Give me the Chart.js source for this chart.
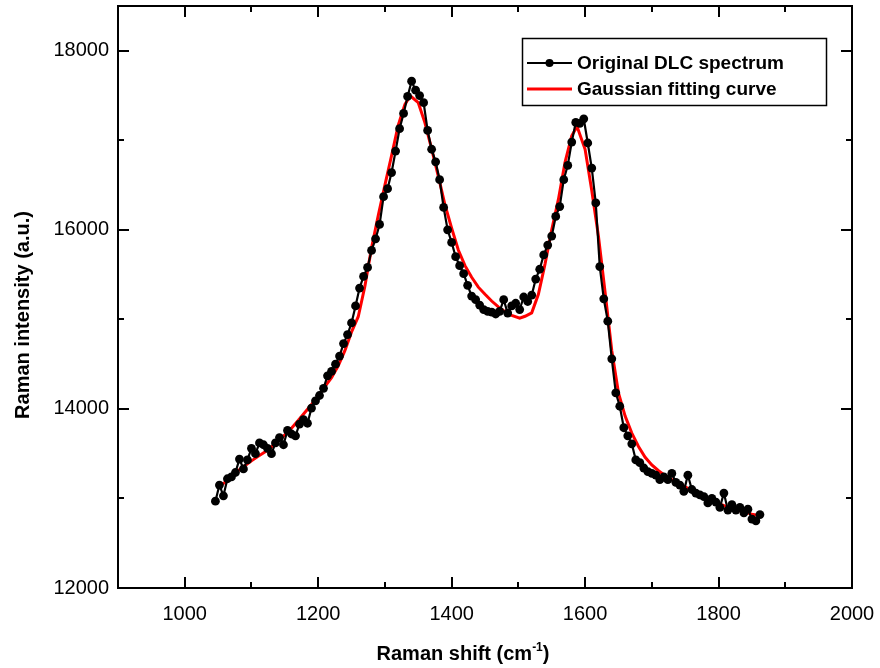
<!DOCTYPE html>
<html>
<head>
<meta charset="utf-8">
<title>DLC Raman spectrum</title>
<script src="https://cdn.jsdelivr.net/npm/chart.js@4.4.1/dist/chart.umd.min.js"></script>
<style>
  html, body { margin: 0; padding: 0; background: #fff; }
  #wrap { width: 880px; height: 668px; }
</style>
</head>
<body>
<div id="wrap"><canvas id="raman" width="880" height="668"></canvas></div>
<script>
/* ------------------------------------------------------------
   DATOS
------------------------------------------------------------ */
const ramanShift = [
  1046, 1052, 1058, 1064, 1070, 1076, 1082, 1088, 1094, 1100,
  1106, 1112, 1118, 1124, 1130, 1136, 1142, 1148, 1154, 1160,
  1166, 1172, 1178, 1184, 1190, 1196, 1202, 1208, 1214, 1220,
  1226, 1232, 1238, 1244, 1250, 1256, 1262, 1268, 1274, 1280,
  1286, 1292, 1298, 1304, 1310, 1316, 1322, 1328, 1334, 1340,
  1346, 1352, 1358, 1364, 1370, 1376, 1382, 1388, 1394, 1400,
  1406, 1412, 1418, 1424, 1430, 1436, 1442, 1448, 1454, 1460,
  1466, 1472, 1478, 1484, 1490, 1496, 1502, 1508, 1514, 1520,
  1526, 1532, 1538, 1544, 1550, 1556, 1562, 1568, 1574, 1580,
  1586, 1592, 1598, 1604, 1610, 1616, 1622, 1628, 1634, 1640,
  1646, 1652, 1658, 1664, 1670, 1676, 1682, 1688, 1694, 1700,
  1706, 1712, 1718, 1724, 1730, 1736, 1742, 1748, 1754, 1760,
  1766, 1772, 1778, 1784, 1790, 1796, 1802, 1808, 1814, 1820,
  1826, 1832, 1838, 1844, 1850, 1856, 1862,
];

const spectrum = [
  12970, 13150, 13030, 13220, 13240, 13290, 13440, 13330, 13430, 13560,
  13500, 13620, 13600, 13560, 13500, 13620, 13680, 13600, 13760, 13720,
  13700, 13830, 13880, 13840, 14010, 14090, 14150, 14230, 14370, 14420,
  14500, 14590, 14730, 14830, 14960, 15150, 15350, 15480, 15580, 15770,
  15900, 16060, 16370, 16460, 16640, 16880, 17130, 17300, 17490, 17660,
  17560, 17500, 17420, 17110, 16900, 16760, 16560, 16250, 16000, 15860,
  15700, 15600, 15510, 15380, 15260, 15220, 15160, 15110, 15090, 15080,
  15060, 15090, 15220, 15070, 15150, 15180, 15110, 15250, 15200, 15270,
  15450, 15560, 15720, 15830, 15930, 16150, 16260, 16560, 16720, 16980,
  17200, 17190, 17240, 16970, 16690, 16300, 15590, 15230, 14980, 14560,
  14180, 14030, 13790, 13700, 13610, 13430, 13400, 13340, 13300, 13280,
  13260, 13210, 13240, 13210, 13280, 13180, 13150, 13080, 13260, 13100,
  13060, 13040, 13020, 12950, 13000, 12960, 12900, 13060, 12870, 12930,
  12870, 12900, 12840, 12880, 12770, 12750, 12820,
];

const fitShift = [
  1050, 1060, 1070, 1080, 1090, 1100, 1110, 1120, 1130, 1140,
  1150, 1160, 1170, 1180, 1190, 1200, 1210, 1220, 1230, 1240,
  1250, 1260, 1270, 1280, 1290, 1300, 1310, 1320, 1330, 1338,
  1350, 1360, 1370, 1380, 1390, 1400, 1410, 1420, 1430, 1440,
  1450, 1460, 1470, 1480, 1490, 1502, 1510, 1520, 1530, 1540,
  1550, 1560, 1570, 1580, 1588, 1600, 1610, 1620, 1630, 1640,
  1650, 1660, 1670, 1680, 1690, 1700, 1710, 1720, 1730, 1740,
  1750, 1760, 1770, 1780, 1790, 1800, 1810, 1820, 1830, 1840,
  1850, 1860, 1865,
];

const fitCurve = [
  13120, 13180, 13245, 13310, 13365, 13420, 13470, 13520, 13575, 13640,
  13710, 13785, 13870, 13960, 14050, 14145, 14250, 14350, 14480, 14650,
  14860, 15030, 15370, 15800, 16160, 16500, 16830, 17170, 17400, 17497,
  17420, 17195, 16905, 16600, 16280, 16020, 15775, 15600, 15470, 15360,
  15280, 15205, 15140, 15085, 15045, 15013, 15035, 15073, 15280, 15620,
  16000, 16340, 16757, 17050, 17154, 16900, 16440, 15930, 15300, 14650,
  14180, 13920, 13730, 13580, 13460, 13375, 13310, 13255, 13210, 13170,
  13130, 13085, 13045, 13010, 12975, 12945, 12915, 12890, 12865, 12845,
  12825, 12810, 12805,
];

const xTickValues  = [1000, 1200, 1400, 1600, 1800, 2000];
const xMinorValues = [1100, 1300, 1500, 1700, 1900];
const yTickValues  = [12000, 14000, 16000, 18000];
const yMinorValues = [13000, 15000, 17000];

const legendLabels = ['Original DLC spectrum', 'Gaussian fitting curve'];

/* ------------------------------------------------------------
   ESTILO
------------------------------------------------------------ */
const FONT = "'Liberation Sans', Arial, sans-serif";
const INK  = '#000000';
const RED  = '#ff0000';

/* marco + ticks hacia dentro en los cuatro lados (estilo Origin) */
const frameTicks = {
  id: 'frameTicks',
  afterDatasetsDraw(chart) {
    const { ctx, chartArea: a, scales: { x, y } } = chart;
    ctx.save();
    ctx.strokeStyle = INK;
    ctx.lineWidth = 2;
    ctx.strokeRect(a.left, a.top, a.right - a.left, a.bottom - a.top);

    const tick = (vals, len) => {
      vals.forEach(v => {
        const px = Math.round(x.getPixelForValue(v));
        ctx.beginPath();
        ctx.moveTo(px, a.bottom); ctx.lineTo(px, a.bottom - len);
        ctx.moveTo(px, a.top);    ctx.lineTo(px, a.top + len);
        ctx.stroke();
      });
    };
    const ytick = (vals, len) => {
      vals.forEach(v => {
        const py = Math.round(y.getPixelForValue(v));
        ctx.beginPath();
        ctx.moveTo(a.left, py);  ctx.lineTo(a.left + len, py);
        ctx.moveTo(a.right, py); ctx.lineTo(a.right - len, py);
        ctx.stroke();
      });
    };
    tick(xTickValues, 11);
    tick(xMinorValues, 6);
    ytick(yTickValues, 11);
    ytick(yMinorValues, 6);
    ctx.restore();
  },
};

/* títulos de ejes y leyenda dibujados a mano (superíndice en cm-1) */
const labelsAndLegend = {
  id: 'labelsAndLegend',
  afterDraw(chart) {
    const { ctx } = chart;
    ctx.save();
    ctx.fillStyle = INK;

    // título eje Y
    ctx.save();
    ctx.translate(23, 315);
    ctx.rotate(-Math.PI / 2);
    ctx.font = `bold 20px ${FONT}`;
    ctx.textAlign = 'center';
    ctx.textBaseline = 'middle';
    ctx.fillText('Raman intensity (a.u.)', 0, 0);
    ctx.restore();

    // título eje X con superíndice
    const main = 'Raman shift (cm';
    const sup  = '-1';
    const end  = ')';
    ctx.font = `bold 20px ${FONT}`;
    const wMain = ctx.measureText(main).width;
    const wEnd  = ctx.measureText(end).width;
    ctx.font = `bold 12px ${FONT}`;
    const wSup = ctx.measureText(sup).width;
    let x0 = 463 - (wMain + wSup + wEnd) / 2;
    const base = 660;
    ctx.textBaseline = 'alphabetic';
    ctx.textAlign = 'left';
    ctx.font = `bold 20px ${FONT}`;
    ctx.fillText(main, x0, base);
    ctx.font = `bold 12px ${FONT}`;
    ctx.fillText(sup, x0 + wMain, base - 9);
    ctx.font = `bold 20px ${FONT}`;
    ctx.fillText(end, x0 + wMain + wSup, base);

    // leyenda
    ctx.lineWidth = 1.5;
    ctx.strokeStyle = INK;
    ctx.strokeRect(522.5, 38.5, 304, 67);

    ctx.lineWidth = 2;
    ctx.beginPath();
    ctx.moveTo(527, 63); ctx.lineTo(572, 63);
    ctx.stroke();
    ctx.beginPath();
    ctx.arc(549.5, 63, 4, 0, Math.PI * 2);
    ctx.fill();

    ctx.strokeStyle = RED;
    ctx.lineWidth = 3;
    ctx.beginPath();
    ctx.moveTo(527, 89); ctx.lineTo(572, 89);
    ctx.stroke();

    ctx.font = `bold 19px ${FONT}`;
    ctx.textBaseline = 'middle';
    ctx.fillText(legendLabels[0], 577, 64);
    ctx.fillText(legendLabels[1], 577, 90);
    ctx.restore();
  },
};

/* ------------------------------------------------------------
   GRÁFICO
------------------------------------------------------------ */
const spectrumPoints = ramanShift.map((v, i) => ({ x: v, y: spectrum[i] }));
const fitPoints      = fitShift.map((v, i) => ({ x: v, y: fitCurve[i] }));

new Chart(document.getElementById('raman').getContext('2d'), {
  type: 'line',
  data: {
    datasets: [
      {
        label: legendLabels[0],
        data: spectrumPoints,
        borderColor: INK,
        backgroundColor: INK,
        borderWidth: 2.2,
        pointRadius: 4.4,
        pointBorderWidth: 0,
        pointStyle: 'circle',
        tension: 0,
      },
      {
        label: legendLabels[1],
        data: fitPoints,
        borderColor: RED,
        borderWidth: 3,
        pointRadius: 0,
        tension: 0,
      },
    ],
  },
  options: {
    responsive: false,
    devicePixelRatio: 1,
    animation: false,
    layout: { padding: { top: 6, right: 28, left: 0, bottom: 0 } },
    plugins: {
      legend:  { display: false },
      tooltip: { enabled: false },
    },
    scales: {
      x: {
        type: 'linear',
        min: 900,
        max: 2000,
        afterBuildTicks: s => { s.ticks = xTickValues.map(v => ({ value: v })); },
        afterFit: s => { s.height = 80; s.paddingLeft = 0; s.paddingRight = 0; },
        grid:   { display: false, drawTicks: false },
        border: { display: false },
        ticks: {
          padding: 14,
          maxRotation: 0,
          autoSkip: false,
          color: INK,
          font: { family: FONT, size: 20 },
          callback: v => String(v),
        },
      },
      y: {
        type: 'linear',
        min: 12000,
        max: 18500,
        afterBuildTicks: s => { s.ticks = yTickValues.map(v => ({ value: v })); },
        afterFit: s => { s.width = 118; s.paddingTop = 0; s.paddingBottom = 0; },
        grid:   { display: false, drawTicks: false },
        border: { display: false },
        ticks: {
          padding: 9,
          autoSkip: false,
          color: INK,
          font: { family: FONT, size: 20 },
          callback: v => String(v),
        },
      },
    },
  },
  plugins: [frameTicks, labelsAndLegend],
});
</script>
</body>
</html>
